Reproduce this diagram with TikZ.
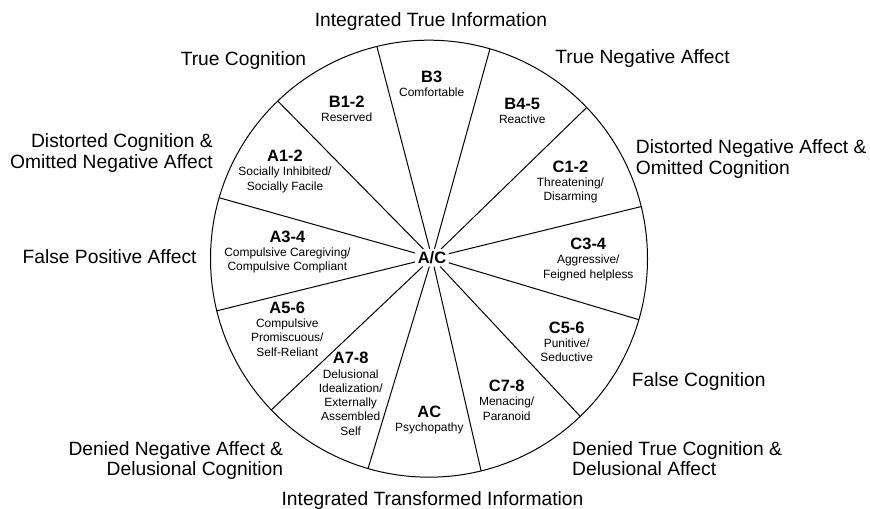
\documentclass[tikz,border=0pt]{standalone}
\usepackage{fontspec}
\setmainfont{Liberation Sans}
\usetikzlibrary{calc}

\begin{document}
\begin{tikzpicture}[x=1bp,y=1bp,
    outer/.style={inner sep=0pt, font=\fontsize{19.3}{20.8}\selectfont},
    sector/.style={anchor=north, inner sep=0pt, align=center, font=\fontsize{12}{14.3}\selectfont},
    wheel/.style={line width=1bp}]
\def\radius{218.5}
\def\title#1{{\fontsize{16.5}{15}\selectfont\bfseries #1}}
\useasboundingbox (0,0) rectangle (870,509);

% wheel and rim points between the twelve sectors
\coordinate (c) at (429,250.3);
\draw[wheel] (c) circle (\radius bp);
\coordinate (r1) at ($(c)+(13.8:\radius bp)$);
\coordinate (r2) at ($(c)+(43.8:\radius bp)$);
\coordinate (r3) at ($(c)+(73.8:\radius bp)$);
\coordinate (r4) at ($(c)+(103.8:\radius bp)$);
\coordinate (r5) at ($(c)+(133.8:\radius bp)$);
\coordinate (r6) at ($(c)+(163.8:\radius bp)$);
\coordinate (r7) at ($(c)+(193.8:\radius bp)$);
\coordinate (r8) at ($(c)+(223.8:\radius bp)$);
\coordinate (r9) at ($(c)+(253.8:\radius bp)$);
\coordinate (r10) at ($(c)+(283.8:\radius bp)$);
\coordinate (r11) at ($(c)+(313.8:\radius bp)$);
\coordinate (r12) at ($(c)+(343.8:\radius bp)$);

% hub, spokes stop at its border
\node[inner sep=2.5bp, font=\fontsize{16.5}{15}\selectfont\bfseries] (ac) at (432,251.2) {A/C};
\draw[wheel] (ac) -- (r1);
\draw[wheel] (ac) -- (r2);
\draw[wheel] (ac) -- (r3);
\draw[wheel] (ac) -- (r4);
\draw[wheel] (ac) -- (r5);
\draw[wheel] (ac) -- (r6);
\draw[wheel] (ac) -- (r7);
\draw[wheel] (ac) -- (r8);
\draw[wheel] (ac) -- (r9);
\draw[wheel] (ac) -- (r10);
\draw[wheel] (ac) -- (r11);
\draw[wheel] (ac) -- (r12);

% sector labels
\node[sector] (b3) at (431.7,438.3) {\title{B3}\\Comfortable};
\node[sector] (b12) at (346.7,413.3) {\title{B1-2}\\Reserved};
\node[sector] (b45) at (522.3,411) {\title{B4-5}\\Reactive};
\node[sector] (a12) at (285,359) {\title{A1-2}\\Socially Inhibited/\\Socially Facile};
\node[sector] (c12) at (570.5,348.3) {\title{C1-2}\\Threatening/\\Disarming};
\node[sector] (a34) at (287.4,278.3) {\title{A3-4}\\Compulsive Caregiving/\\Compulsive Compliant};
\node[sector] (c34) at (588.3,271) {\title{C3-4}\\Aggressive/\\Feigned helpless};
\node[sector] (a56) at (287.3,207.3) {\title{A5-6}\\Compulsive\\Promiscuous/\\Self-Reliant};
\node[sector] (c56) at (566.7,187.3) {\title{C5-6}\\Punitive/\\Seductive};
\node[sector] (a78) at (350.7,156.7) {\title{A7-8}\\Delusional\\Idealization/\\Externally\\Assembled\\Self};
\node[sector] (c78) at (506.7,129) {\title{C7-8}\\Menacing/\\Paranoid};
\node[sector] (acp) at (429.3,103.3) {\title{AC}\\Psychopathy};

% labels around the wheel
\node[outer, anchor=north] (iti) at (431,496.2) {Integrated True Information};
\node[outer, anchor=north] (tc) at (243.5,457.9) {True Cognition};
\node[outer, anchor=north] (tna) at (642.5,459.6) {True Negative Affect};
\node[outer, anchor=north east, align=right] (dcona) at (213,375.2) {Distorted Cognition \&\\Omitted Negative Affect};
\node[outer, anchor=north west, align=left] (dnaoc) at (635.7,369.6) {Distorted Negative Affect \&\\Omitted Cognition};
\node[outer, anchor=north east] (fpa) at (196.7,259.9) {False Positive Affect};
\node[outer, anchor=north west] (fc) at (631.7,136.2) {False Cognition};
\node[outer, anchor=north east, align=right] (dnadc) at (283.3,67.9) {Denied Negative Affect \&\\Delusional Cognition};
\node[outer, anchor=north west, align=left] (dtcda) at (572,67.9) {Denied True Cognition \&\\Delusional Affect};
\node[outer, anchor=north] (itti) at (432.5,18) {Integrated Transformed Information};
\end{tikzpicture}
\end{document}
